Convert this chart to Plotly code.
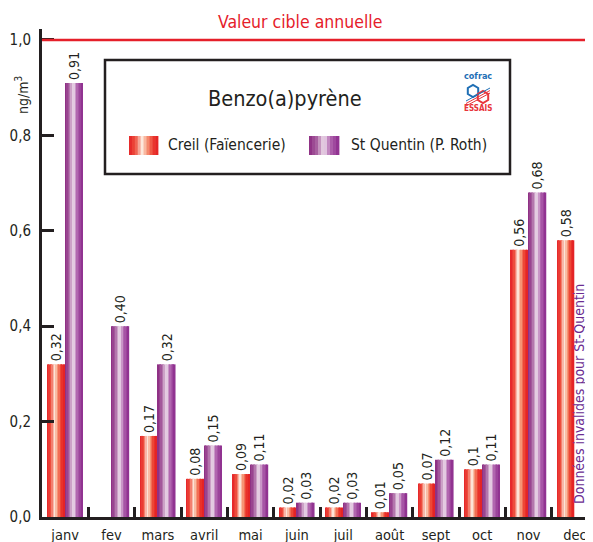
import math
import plotly.graph_objects as go

months = ["janv", "fev", "mars", "avril", "mai", "juin", "juil", "août", "sept", "oct", "nov", "dec"]
creil = [0.32, None, 0.17, 0.08, 0.09, 0.02, 0.02, 0.01, 0.07, 0.10, 0.56, 0.58]
creil_labels = ["0,32", "", "0,17", "0,08", "0,09", "0,02", "0,02", "0,01", "0,07", "0,1", "0,56", "0,58"]
stq = [0.91, 0.40, 0.32, 0.15, 0.11, 0.03, 0.03, 0.05, 0.12, 0.11, 0.68, None]
stq_labels = ["0,91", "0,40", "0,32", "0,15", "0,11", "0,03", "0,03", "0,05", "0,12", "0,11", "0,68", ""]
target = 1.0
yticks = [0.0, 0.2, 0.4, 0.6, 0.8, 1.0]

FONT = "DejaVu Sans Condensed, Liberation Sans Narrow, sans-serif"
INK = "#231f20"
RED_STOPS = [(0, (228, 32, 38)), (0.22, (238, 80, 62)), (0.45, (253, 232, 220)),
             (0.62, (246, 150, 118)), (0.82, (236, 58, 44)), (1, (226, 30, 36))]
PUR_STOPS = [(0, (138, 40, 128)), (0.25, (168, 96, 160)), (0.5, (240, 226, 238)),
             (0.7, (178, 104, 176)), (1, (140, 42, 140))]


def grad(stops, t):
    for (t0, c0), (t1, c1) in zip(stops, stops[1:]):
        if t0 <= t <= t1:
            f = (t - t0) / (t1 - t0)
            c = [round(a + (b - a) * f) for a, b in zip(c0, c1)]
            return "rgb(%d,%d,%d)" % tuple(c)
    return "rgb(%d,%d,%d)" % stops[-1][1]


N = 12
fig = go.Figure()
idx = list(range(len(months)))


def add_series(vals, labels, offset, width, stops, name):
    sw = width / N
    for i in range(N):
        fig.add_trace(go.Bar(
            x=[k + offset + (i + 0.5) * sw for k in idx], y=vals, width=sw * 1.08,
            marker=dict(color=grad(stops, (i + 0.5) / N), line=dict(width=0)),
            showlegend=False, hoverinfo="skip", name=name))
    fig.add_trace(go.Bar(
        x=[k + offset + width / 2 for k in idx], y=vals, width=width,
        marker=dict(color="rgba(0,0,0,0)", line=dict(width=0)),
        text=labels, textposition="outside", textangle=-90, constraintext="none",
        cliponaxis=False, textfont=dict(family=FONT, size=14, color=INK),
        showlegend=False, name=name))


add_series(creil, creil_labels, -0.38, 0.365, RED_STOPS, "Creil (Faïencerie)")
add_series(stq, stq_labels, 0.0, 0.38, PUR_STOPS, "St Quentin (P. Roth)")

# page body has an 8px margin: figure is drawn 8px right/down
W, H, L, R, T, B = 585, 534, 34, 0, 21, 25
pw, ph = W - L - R, H - T - B
OFF = 8


def px(x):
    return (x - OFF - L) / pw


def py(y):
    return (H - B - (y - OFF)) / ph


shapes = [dict(type="line", xref="paper", yref="y", x0=0, x1=1, y0=target, y1=target,
               line=dict(color="#e5202a", width=2.5), layer="above"),
          dict(type="rect", xref="paper", yref="paper", x0=px(105), x1=px(510), y0=py(60), y1=py(174),
               line=dict(color=INK, width=2.5), fillcolor="white")]


def swatch(x0, x1, y0, y1, stops):
    n = 10
    for i in range(n):
        a = x0 + (x1 - x0) * i / n
        b = x0 + (x1 - x0) * (i + 1) / n + 0.4
        shapes.append(dict(type="rect", xref="paper", yref="paper", x0=px(a), x1=px(b),
                           y0=py(y0), y1=py(y1), line=dict(width=0),
                           fillcolor=grad(stops, (i + 0.5) / n)))


swatch(129, 158, 136, 155, RED_STOPS)
swatch(309, 339, 136, 155, PUR_STOPS)


def hexpath(cx, cy, r):
    pts = []
    for k in range(6):
        a = math.pi / 6 + k * math.pi / 3
        pts.append((px(cx + r * math.cos(a)), py(cy + r * math.sin(a))))
    return "M " + " L ".join("%f,%f" % p for p in pts) + " Z"


shapes.append(dict(type="path", xref="paper", yref="paper", path=hexpath(473, 91, 6),
                   line=dict(color="#1f6fb5", width=2)))
shapes.append(dict(type="path", xref="paper", yref="paper", path=hexpath(483, 97, 6),
                   line=dict(color="#e8343a", width=2)))
for d in range(3):
    shapes.append(dict(type="line", xref="paper", yref="paper", x0=px(466), y0=py(101 + d * 2.5),
                       x1=px(490), y1=py(88 + d * 2.5),
                       line=dict(color="#1f6fb5" if d < 1 else "#e8343a", width=1)))


def ann(text, x, y, size, color=INK, angle=0, xanchor="center"):
    return dict(text=text, xref="paper", yref="paper", x=px(x), y=py(y), textangle=angle,
                xanchor=xanchor, yanchor="middle", showarrow=False,
                font=dict(family=FONT, size=size, color=color))


annotations = [
    ann("Valeur cible annuelle", 300, 22, 17.5, "#e5202a"),
    ann("Benzo(a)pyrène", 285, 98, 21.5),
    ann("Creil (Faïencerie)", 166, 145, 15.5, xanchor="left"),
    ann("St Quentin (P. Roth)", 349, 145, 15.5, xanchor="left"),
    ann("<b>cofrac</b>", 478, 76, 9, "#1f6fb5"),
    ann("<b>ESSAIS</b>", 478, 109, 8, "#e8343a"),
    ann("ng/m<sup>3</sup>", 22, 95, 14, angle=-90),
    ann("Données invalides pour St-Quentin", 579, 394, 14, "#6b2c91", angle=-90),
]

fig.update_layout(
    template="none",
    width=W, height=H, margin=dict(l=L, r=R, t=T, b=B, pad=0, autoexpand=False),
    paper_bgcolor="white", plot_bgcolor="white", barmode="overlay",
    separators=", ", showlegend=False, shapes=shapes, annotations=annotations,
    font=dict(family=FONT, color=INK),
    xaxis=dict(range=[-0.5, 11.39], tickvals=idx, ticktext=months, ticks="", showline=True,
               linewidth=3, linecolor=INK, showgrid=False, zeroline=False, automargin=False,
               tickfont=dict(family=FONT, size=14.5, color=INK), ticklabelstandoff=3,
               minor=dict(tickvals=[k + 0.5 for k in idx[:-1]], ticks="inside", ticklen=10,
                          tickwidth=2.5, tickcolor=INK, showgrid=False)),
    yaxis=dict(range=[0, 1.023], tickvals=yticks, tickformat=".1f", ticks="inside", ticklen=12,
               tickwidth=2.5, tickcolor=INK, showline=True, linewidth=3, linecolor=INK,
               showgrid=False, zeroline=False, ticklabelstandoff=5, automargin=False,
               tickfont=dict(family=FONT, size=15, color=INK)),
)

fig.write_html("out.html")
